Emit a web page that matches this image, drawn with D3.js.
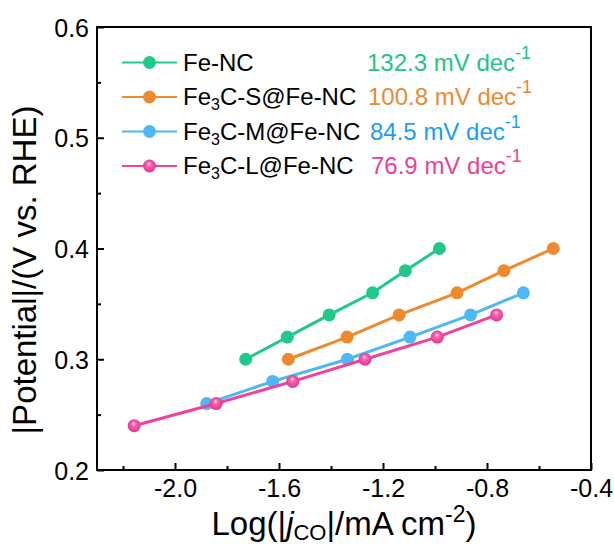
<!DOCTYPE html>
<html>
<head>
<meta charset="utf-8">
<script src="https://cdn.jsdelivr.net/npm/d3@7"></script>
<style>
  body { margin: 0; background: #fff; }
  svg text { font-family: "Liberation Sans", Arial, sans-serif; }
</style>
</head>
<body>
<div id="chart"></div>
<script>
// series data
const seriesNames = ["Fe-NC", "Fe3C-S@Fe-NC", "Fe3C-M@Fe-NC", "Fe3C-L@Fe-NC"];
const slopes = ["132.3", "100.8", "84.5", "76.9"];
const feNC_x = [-1.728, -1.568, -1.407, -1.240, -1.114, -0.983];
const feNC_y = [0.30, 0.32, 0.34, 0.36, 0.38, 0.40];
const feS_x = [-1.564, -1.338, -1.138, -0.915, -0.735, -0.545];
const feS_y = [0.30, 0.32, 0.34, 0.36, 0.38, 0.40];
const feM_x = [-1.878, -1.624, -1.337, -1.096, -0.863, -0.660];
const feM_y = [0.26, 0.28, 0.30, 0.32, 0.34, 0.36];
const feL_x = [-2.157, -1.842, -1.547, -1.269, -0.991, -0.763];
const feL_y = [0.24, 0.26, 0.28, 0.30, 0.32, 0.34];
const xTicks = [-2.0, -1.6, -1.2, -0.8, -0.4];
const yTicks = [0.2, 0.3, 0.4, 0.5, 0.6];

const colors = ["#20c98a", "#ee8a2e", "#4db8f4", "#f2409d"];
const textColors = ["#22c487", "#e98a35", "#1a9ef0", "#ea3f9a"];

function init() {
    let w = 614, h = 544;
    let left = 97, right = 591, top = 27, bottom = 470;

    let svg = d3.select("#chart").append("svg")
        .attr("width", w).attr("height", h);

    let x = d3.scaleLinear().domain([-2.3, -0.4]).range([left, right]);
    let y = d3.scaleLinear().domain([0.2, 0.6]).range([bottom, top]);

    // pink sphere gradient
    let defs = svg.append("defs");
    let grad = defs.append("radialGradient").attr("id", "pinkBall")
        .attr("cx", "0.5").attr("cy", "0.5").attr("r", "0.55")
        .attr("fx", "0.45").attr("fy", "0.3");
    grad.append("stop").attr("offset", "0%").attr("stop-color", "#ffe4f1");
    grad.append("stop").attr("offset", "30%").attr("stop-color", "#f668b0");
    grad.append("stop").attr("offset", "100%").attr("stop-color", "#e62f8c");

    // box
    svg.append("rect")
        .attr("x", left).attr("y", top)
        .attr("width", right - left).attr("height", bottom - top)
        .attr("fill", "none").attr("stroke", "#000").attr("stroke-width", 2);

    // x axis ticks (inward)
    let xAxis = d3.axisBottom(x).tickValues(xTicks).tickSize(-7)
        .tickFormat(d3.format(".1f"));
    let gx = svg.append("g").attr("transform", `translate(0,${bottom})`).call(xAxis);
    gx.select(".domain").remove();
    gx.selectAll("line").attr("stroke-width", 2);
    gx.selectAll("text").attr("font-size", 25).attr("fill", "#000")
        .attr("y", 27).attr("dy", 0)
        .text(d => d3.format(".1f")(d).replace("−", "-"));
    let xMinor = d3.axisBottom(x).tickValues(d3.range(-2.2, -0.4, 0.4)).tickSize(-4).tickFormat("");
    let gxm = svg.append("g").attr("transform", `translate(0,${bottom})`).call(xMinor);
    gxm.select(".domain").remove();
    gxm.selectAll("line").attr("stroke-width", 2);

    // y axis ticks (inward)
    let yAxis = d3.axisLeft(y).tickValues(yTicks).tickSize(-7)
        .tickFormat(d3.format(".1f"));
    let gy = svg.append("g").attr("transform", `translate(${left},0)`).call(yAxis);
    gy.select(".domain").remove();
    gy.selectAll("line").attr("stroke-width", 2);
    gy.selectAll("text").attr("font-size", 25).attr("fill", "#000")
        .attr("x", -8).attr("dy", "0.36em");
    let yMinor = d3.axisLeft(y).tickValues([0.25, 0.35, 0.45, 0.55]).tickSize(-4).tickFormat("");
    let gym = svg.append("g").attr("transform", `translate(${left},0)`).call(yMinor);
    gym.select(".domain").remove();
    gym.selectAll("line").attr("stroke-width", 2);

    // axis titles
    let xt = svg.append("text").attr("x", (left + right) / 2).attr("y", 535)
        .attr("text-anchor", "middle").attr("font-size", 33);
    xt.append("tspan").text("Log(|");
    xt.append("tspan").attr("font-style", "italic").text("j");
    xt.append("tspan").attr("font-size", 22).attr("dy", 5).text("CO");
    xt.append("tspan").attr("dy", -5).text("|/mA cm");
    xt.append("tspan").attr("font-size", 23).attr("dy", -13).text("-2");
    xt.append("tspan").attr("dy", 13).text(")");

    svg.append("text")
        .attr("transform", `translate(36,270) rotate(-90)`)
        .attr("text-anchor", "middle").attr("font-size", 33)
        .text("|Potential|/(V vs. RHE)");

    // series
    let allX = [feNC_x, feS_x, feM_x, feL_x];
    let allY = [feNC_y, feS_y, feM_y, feL_y];
    let line = d3.line().x(d => x(d[0])).y(d => y(d[1]));

    allX.forEach(function (xs, i) {
        let pts = xs.map((v, j) => [v, allY[i][j]]);
        svg.append("path").datum(pts)
            .attr("d", line)
            .attr("fill", "none")
            .attr("stroke", colors[i])
            .attr("stroke-width", 3);
        svg.selectAll(".pt" + i).data(pts).enter().append("circle")
            .attr("class", "pt" + i)
            .attr("cx", d => x(d[0])).attr("cy", d => y(d[1]))
            .attr("r", 6.5)
            .attr("fill", i === 3 ? "url(#pinkBall)" : colors[i]);
    });

    // legend
    let rowY = [62.5, 97, 131.5, 166];
    let slopeX = [367, 368, 370, 371];
    seriesNames.forEach(function (name, i) {
        let g = svg.append("g");
        g.append("line").attr("x1", 122).attr("x2", 177)
            .attr("y1", rowY[i]).attr("y2", rowY[i])
            .attr("stroke", colors[i]).attr("stroke-width", 2);
        g.append("circle").attr("cx", 149.5).attr("cy", rowY[i]).attr("r", 6.5)
            .attr("fill", i === 3 ? "url(#pinkBall)" : colors[i]);
        let t = g.append("text").attr("x", 183).attr("y", rowY[i] + 8)
            .attr("font-size", 24).attr("fill", "#000");
        if (name.startsWith("Fe3C")) {
            t.append("tspan").text("Fe");
            t.append("tspan").attr("font-size", 16).attr("dy", 5).text("3");
            t.append("tspan").attr("dy", -5).text(name.slice(3));
        } else {
            t.text(name);
        }
        let s = g.append("text").attr("x", slopeX[i]).attr("y", rowY[i] + 8)
            .attr("font-size", 24).attr("fill", textColors[i]);
        s.append("tspan").text(slopes[i] + " mV dec");
        s.append("tspan").attr("font-size", 18).attr("dy", -12).text("-1");
    });
}

window.onload = init;
</script>
</body>
</html>
